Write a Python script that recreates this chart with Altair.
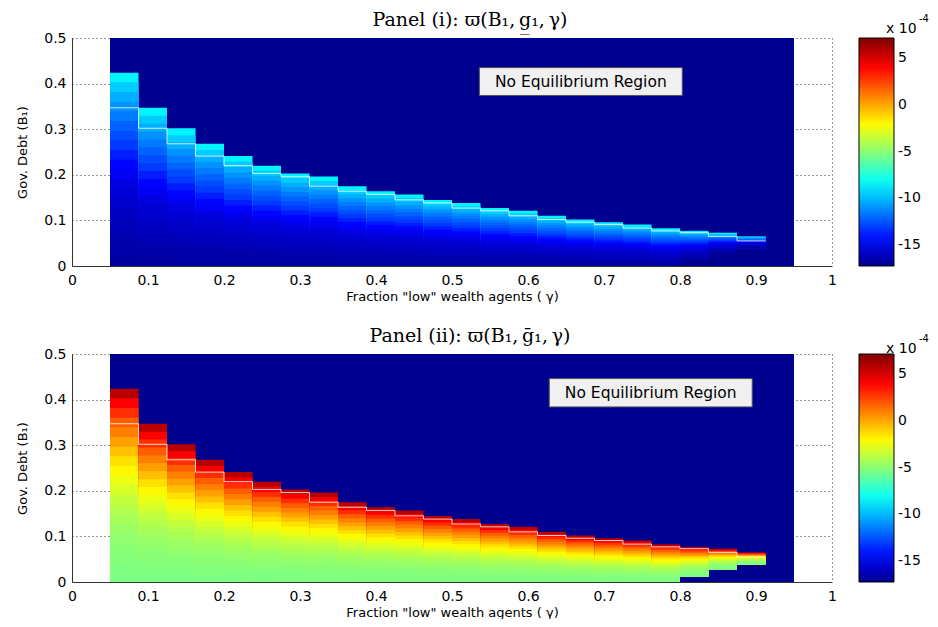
import altair as alt
import pandas as pd

# ---------------- data ----------------
gamma_edges = [0.05, 0.0875, 0.125, 0.1625, 0.2, 0.2375, 0.275, 0.3125, 0.35,
               0.3875, 0.425, 0.4625, 0.5, 0.5375, 0.575, 0.6125, 0.65, 0.6875,
               0.725, 0.7625, 0.8, 0.8375, 0.875, 0.9125, 0.95]
# upper edge of the equilibrium region in every gamma column
b_top = [0.424, 0.347, 0.302, 0.268, 0.241, 0.220, 0.203, 0.196, 0.175, 0.164,
         0.157, 0.145, 0.138, 0.127, 0.121, 0.110, 0.102, 0.096, 0.091, 0.083,
         0.077, 0.073, 0.065, 0.055]
# lower edge of the equilibrium region in every gamma column
b_bottom = [0, 0, 0, 0, 0, 0, 0, 0, 0, 0, 0, 0, 0, 0, 0, 0, 0, 0, 0, 0,
            0.012, 0.027, 0.039, 0.055]
# colour value (x 1e-4) in 20 bands, bottom -> top of each column
profile_i = [-16.9, -16.7, -16.6, -16.4, -16.2, -16.0, -15.8, -15.6, -15.3, -14.9,
             -14.5, -13.9, -13.2, -12.7, -12.2, -11.6, -11.0, -10.3, -9.6, -8.6]
profile_ii = [-5.3, -5.2, -5.1, -5.0, -4.8, -4.6, -4.3, -4.0, -3.6, -3.1,
              -2.6, -2.0, -1.4, -0.6, 0.2, 1.0, 1.8, 3.0, 4.2, 5.8]

c_min, c_max = -17.3, 7.2
jet_fracs = [0, 0.111, 0.365, 0.619, 0.873, 1]
jet_colors = ["#00008F", "#0000FF", "#00FFFF", "#FFFF00", "#FF0000", "#800000"]
cbar_ticks = [-15, -10, -5, 0, 5]
x_ticks = [0, 0.1, 0.2, 0.3, 0.4, 0.5, 0.6, 0.7, 0.8, 0.9, 1]
y_ticks = [0, 0.1, 0.2, 0.3, 0.4, 0.5]

titles = ["Panel (i): \u03d6(B\u2081,\u2009g\u0332\u2081,\u2009\u03b3)",
          "Panel (ii): \u03d6(B\u2081,\u2009g\u0304\u2081,\u2009\u03b3)"]
box_text = "No Equilibrium Region"
boxes = [(0.536, 0.803, 0.374, 0.435), (0.628, 0.895, 0.384, 0.446)]

FONT = "DejaVu Sans"
W, H = 760, 228
color_domain = [c_min + f * (c_max - c_min) for f in jet_fracs]


def cell_table(profile):
    # each band is drawn from the column floor up to its own top, highest band first,
    # so that the lower bands paint over it (no anti-aliasing seams between bands)
    rows = []
    n = len(profile)
    for i in range(len(b_top)):
        lo_b, hi_b = b_bottom[i], b_top[i]
        if hi_b <= lo_b:
            continue
        for k in range(n - 1, -1, -1):
            rows.append(dict(g0=gamma_edges[i], g1=gamma_edges[i + 1], b0=lo_b,
                             b1=lo_b + (hi_b - lo_b) * (k + 1) / n, v=profile[k]))
    return pd.DataFrame(rows)


def panel(profile, title, box, sup_dy):
    x_axis = alt.Axis(values=x_ticks, title='Fraction "low" wealth agents ( \u03b3)',
                      labelExpr="'' + datum.value",
                      grid=True, gridDash=[1, 3], gridColor="#222", gridOpacity=0.9,
                      ticks=False, domainColor="#333", labelFont=FONT, labelFontSize=14,
                      labelColor="black", labelPadding=7, labelFlush=False,
                      titleFont=FONT, titleFontSize=13, titleFontWeight="normal",
                      titleColor="black", titlePadding=3)
    y_axis = alt.Axis(values=y_ticks, title="Gov. Debt (B\u2081)",
                      labelExpr="'' + datum.value",
                      grid=True, gridDash=[1, 3], gridColor="#222", gridOpacity=0.9,
                      ticks=False, domainColor="#333", labelFont=FONT, labelFontSize=14,
                      labelColor="black", labelPadding=6, labelFlush=False,
                      titleFont=FONT, titleFontSize=13, titleFontWeight="normal",
                      titleColor="black", titlePadding=14)
    X = alt.X("g0:Q", scale=alt.Scale(domain=[0, 1], nice=False, zero=False), axis=x_axis)
    Y = alt.Y("b0:Q", scale=alt.Scale(domain=[0, 0.5], nice=False, zero=False), axis=y_axis)
    cscale = alt.Scale(domain=color_domain, range=jet_colors, interpolate="rgb", clamp=True)
    legend = alt.Legend(title=None, type="gradient", orient="none", legendX=787, legendY=0,
                        direction="vertical", gradientLength=H, gradientThickness=35,
                        values=cbar_ticks, labelExpr="'' + datum.value",
                        labelFont=FONT, labelFontSize=14, labelColor="black",
                        labelOffset=4, gradientStrokeColor="black",
                        gradientStrokeWidth=1, padding=0, labelOverlap=False)
    C = alt.Color("v:Q", scale=cscale, legend=legend)

    bg_df = pd.DataFrame({"g0": [gamma_edges[0]], "g1": [gamma_edges[-1]],
                          "b0": [0], "b1": [0.5], "v": [c_min]})
    bg = alt.Chart(bg_df).mark_rect().encode(x=X, x2="g1", y=Y, y2="b1", color=C)

    cells = alt.Chart(cell_table(profile)).mark_rect().encode(
        x=X, x2="g1", y=Y, y2="b1", color=C)

    step_rows = [dict(g0=gamma_edges[i], b0=b_top[i + 1]) for i in range(len(b_top) - 1)]
    step_rows.append(dict(g0=gamma_edges[len(b_top) - 1], b0=b_top[-1]))
    steps = alt.Chart(pd.DataFrame(step_rows)).mark_line(
        interpolate="step-after", color="white", strokeWidth=1, opacity=0.8
    ).encode(x=X, y=Y)

    bx = pd.DataFrame({"g0": [box[0]], "g1": [box[1]], "b0": [box[2]], "b1": [box[3]]})
    box_rect = alt.Chart(bx).mark_rect(fill="#F0F0F0", stroke="#555", strokeWidth=1).encode(
        x=X, x2="g1", y=Y, y2="b1")
    bt = pd.DataFrame({"g0": [(box[0] + box[1]) / 2], "b0": [(box[2] + box[3]) / 2],
                       "t": [box_text]})
    box_lbl = alt.Chart(bt).mark_text(font=FONT, fontSize=15.5, color="black",
                                      align="center", baseline="middle").encode(
        x=X, y=Y, text="t:N")

    sup = pd.DataFrame({"t": ["x 10"], "s": ["-4"], "h": [title]})
    x10 = alt.Chart(sup).mark_text(font=FONT, fontSize=14, color="black", align="left",
                                   baseline="alphabetic").encode(
        x=alt.value(814), y=alt.value(sup_dy), text="t:N")
    exp = alt.Chart(sup).mark_text(font=FONT, fontSize=10, color="black", align="left",
                                   baseline="alphabetic").encode(
        x=alt.value(847), y=alt.value(sup_dy - 11), text="s:N")
    head = alt.Chart(sup).mark_text(font="DejaVu Serif", fontSize=19, color="black",
                                    align="center", baseline="alphabetic").encode(
        x=alt.value(398), y=alt.value(-12), text="h:N")

    return alt.layer(bg, cells, steps, box_rect, box_lbl, x10, exp, head).properties(
        width=W, height=H)


p1 = panel(profile_i, titles[0], boxes[0], -5)
p2 = panel(profile_ii, titles[1], boxes[1], -1)

chart = alt.vconcat(p1, p2, spacing=24).resolve_scale(
    color="independent").resolve_legend(
    color="independent").properties(
    padding={"left": 8, "top": 3, "right": 0, "bottom": 0},
    background="white").configure_view(stroke=None)

chart.save("out.html", embed_options={"renderer": "svg", "actions": False})
